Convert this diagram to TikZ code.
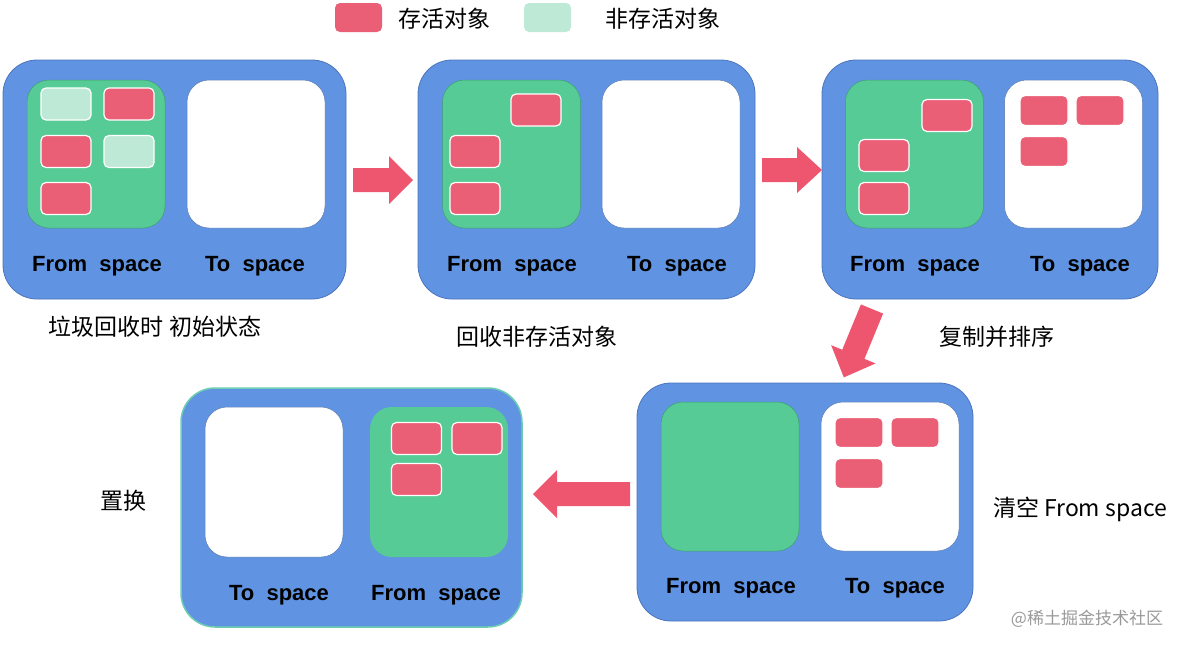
\documentclass[tikz,border=0pt]{standalone}
\usepackage{fontspec}
\setsansfont{Liberation Sans}
\newfontfamily\cjk{Noto Sans CJK SC}
\definecolor{heapblue}{HTML}{6094E2}
\definecolor{heapline}{HTML}{4C74BC}
\definecolor{fromgreen}{HTML}{56CB95}
\definecolor{fromline}{HTML}{3E9E72}
\definecolor{toline}{HTML}{5577B0}
\definecolor{livered}{HTML}{EA5F76}
\definecolor{deadgreen}{HTML}{BDE9D6}
\definecolor{arrowred}{HTML}{EE5670}
\definecolor{swapline}{HTML}{6CCFB2}

\begin{document}
\begin{tikzpicture}[x=1pt,y=-1pt]
\tikzset{
  heap/.style={draw=heapline,fill=heapblue,line width=0.8pt,rounded corners=34pt,minimum width=337pt,minimum height=239pt},
  fromsp/.style={draw=fromline,fill=fromgreen,line width=0.5pt,rounded corners=22pt,minimum width=138pt,minimum height=148pt},
  tosp/.style={draw=toline,fill=white,line width=0.5pt,rounded corners=22pt,minimum width=138pt,minimum height=148pt},
  live/.style={draw=white,fill=livered,line width=1.2pt,rounded corners=5pt,minimum width=50pt,minimum height=32pt},
  dead/.style={live,fill=deadgreen},
  copied/.style={live,minimum width=48pt,minimum height=30pt},
  spacelabel/.style={font=\sffamily\bfseries\fontsize{22}{22}\selectfont},
  caption/.style={font=\cjk\fontsize{23}{23}\selectfont},
  fatarrow/.style={fill=arrowred}
}
\useasboundingbox (0,0) rectangle (1187,649);

% legend
\node[live,draw=none,minimum width=47pt,minimum height=29pt] (k1) at (358.5,17.5) {};
\node[caption,anchor=west] (k1t) at (395,19) {存活对象};
\node[dead,draw=none,minimum width=47pt,minimum height=29pt] (k2) at (547.5,17.5) {};
\node[caption,anchor=west] (k2t) at (602,19) {非存活对象};

% step 1
\node[heap,minimum width=343pt] (p1) at (174.5,179.5) {};
\node[fromsp] (f1) at (96,154) {};
\node[tosp] (t1) at (256,154) {};
\node[dead] (f1a) at (66,104) {};
\node[live] (f1b) at (129,104) {};
\node[live] (f1c) at (66,151.5) {};
\node[dead] (f1d) at (129,151.5) {};
\node[live] (f1e) at (66,198.5) {};
\node[spacelabel] (lf1) at (97,266) {From~~space};
\node[spacelabel] (lt1) at (255,266) {To~~space};
\node[caption] (c1) at (155,327) {垃圾回收时 初始状态};

% step 2
\node[heap] (p2) at (586.5,179.5) {};
\node[fromsp] (f2) at (511.5,154) {};
\node[tosp] (t2) at (671,154) {};
\node[live] (f2a) at (536,110) {};
\node[live] (f2b) at (475,151.5) {};
\node[live] (f2c) at (475,198.5) {};
\node[spacelabel] (lf2) at (512,266) {From~~space};
\node[spacelabel] (lt2) at (677,266) {To~~space};
\node[caption] (c2) at (537,337) {回收非存活对象};

% step 3
\node[heap,minimum width=336pt] (p3) at (990,179.5) {};
\node[fromsp] (f3) at (914.5,154) {};
\node[tosp] (t3) at (1073.5,154) {};
\node[live] (f3a) at (947,115.5) {};
\node[live] (f3b) at (884,155.5) {};
\node[live] (f3c) at (884,198.5) {};
\node[copied] (t3a) at (1044,110.5) {};
\node[copied] (t3b) at (1100,110.5) {};
\node[copied] (t3c) at (1044,151.5) {};
\node[spacelabel] (lf3) at (915,266) {From~~space};
\node[spacelabel] (lt3) at (1080,266) {To~~space};
\node[caption] (c3) at (997,337) {复制并排序};

% step 4
\node[heap,minimum width=336pt,minimum height=238pt] (p4) at (805,502) {};
\node[fromsp,minimum height=149pt] (f4) at (730,476.5) {};
\node[tosp,minimum height=149pt] (t4) at (890,476.5) {};
\node[copied] (t4a) at (859,432.5) {};
\node[copied] (t4b) at (915,432.5) {};
\node[copied] (t4c) at (859,473.5) {};
\node[spacelabel] (lf4) at (731,588) {From~~space};
\node[spacelabel] (lt4) at (895,588) {To~~space};
\node[caption] (c4) at (1080,509) {清空 From space};

% step 5
\node[heap,draw=swapline,line width=1.5pt,minimum width=341pt] (p5) at (351.5,507.5) {};
\node[tosp,minimum height=150pt] (t5) at (274,482) {};
\node[fromsp,draw=none,minimum height=150pt] (f5) at (439,482) {};
\node[live] (f5a) at (416.5,438.5) {};
\node[live] (f5b) at (477,438.5) {};
\node[live] (f5c) at (416.5,479.5) {};
\node[spacelabel] (lt5) at (279,595) {To~~space};
\node[spacelabel] (lf5) at (436,595) {From~~space};
\node[caption] (c5) at (123,501) {置换};

% arrows
\coordinate (a1) at (353,180);
\coordinate (a2) at (762,170);
\coordinate (a3) at (872,309);
\coordinate (a4) at (630,494);
\begin{scope}[shift={(a1)}]
\fill[fatarrow] (0,-12) -- (36,-12) -- (36,-24) -- (60,0) -- (36,24) -- (36,12) -- (0,12) -- cycle;
\end{scope}
\begin{scope}[shift={(a2)}]
\fill[fatarrow] (0,-12) -- (35,-12) -- (35,-23) -- (60,0) -- (35,23) -- (35,12) -- (0,12) -- cycle;
\end{scope}
\begin{scope}[shift={(a3)},rotate=247.6]
\fill[fatarrow] (0,-12) -- (49,-12) -- (49,-24) -- (74,0) -- (49,24) -- (49,12) -- (0,12) -- cycle;
\end{scope}
\begin{scope}[shift={(a4)},rotate=180]
\fill[fatarrow] (0,-12) -- (73,-12) -- (73,-24) -- (97,0) -- (73,24) -- (73,12) -- (0,12) -- cycle;
\end{scope}

% watermark
\node[font=\cjk\fontsize{17}{17}\selectfont,text=black!40] (wm) at (1087,619) {@稀土掘金技术社区};
\end{tikzpicture}
\end{document}
